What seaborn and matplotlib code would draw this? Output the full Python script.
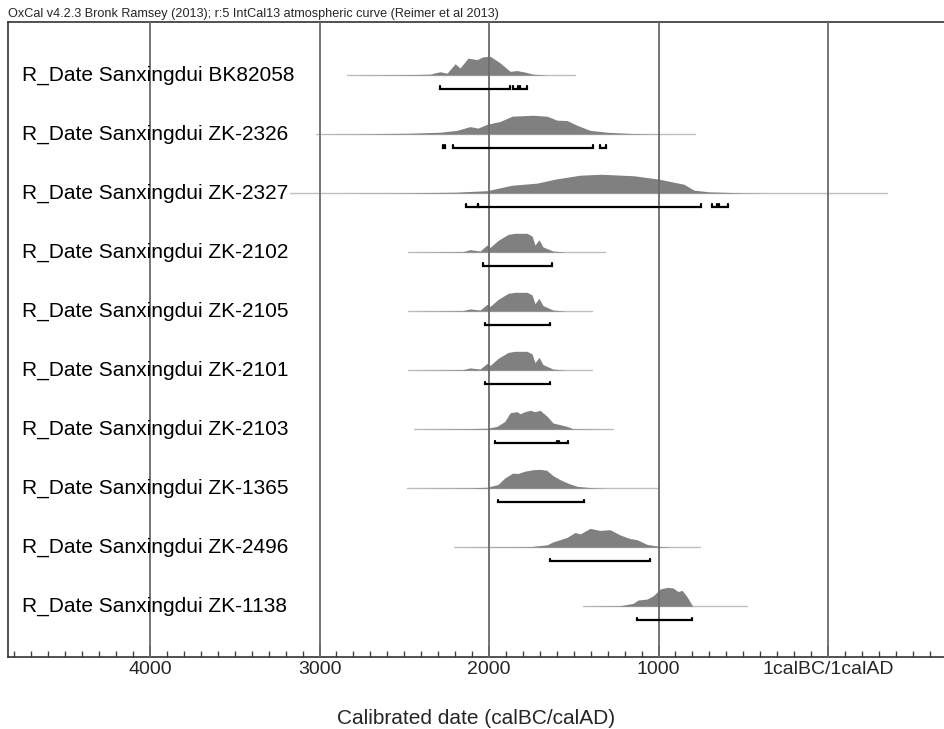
import numpy as np
import pandas as pd
import matplotlib
matplotlib.use("Agg")
import matplotlib.pyplot as plt
from matplotlib.ticker import MultipleLocator
import seaborn as sns

# OxCal multiplot: calibrated R_Dates from Sanxingdui, years in calBC

labels = [
    "R_Date Sanxingdui BK82058",
    "R_Date Sanxingdui ZK-2326",
    "R_Date Sanxingdui ZK-2327",
    "R_Date Sanxingdui ZK-2102",
    "R_Date Sanxingdui ZK-2105",
    "R_Date Sanxingdui ZK-2101",
    "R_Date Sanxingdui ZK-2103",
    "R_Date Sanxingdui ZK-1365",
    "R_Date Sanxingdui ZK-2496",
    "R_Date Sanxingdui ZK-1138",
]

# relative probability (peak = 1) at calBC years
bk82058_bc = [2838, 2466, 2350, 2289, 2248, 2200, 2171, 2124, 2071, 2035, 1994, 1935, 1876, 1835, 1788, 1740, 1658, 1493]
bk82058_p = [0, 0.03, 0.05, 0.18, 0.10, 0.60, 0.38, 0.90, 0.82, 0.97, 1.0, 0.65, 0.20, 0.24, 0.16, 0.05, 0, 0]

zk2326_bc = [3021, 2820, 2466, 2289, 2189, 2112, 2065, 2012, 1935, 1864, 1741, 1658, 1599, 1540, 1481, 1404, 1304, 1150, 949, 785]
zk2326_p = [0, 0.01, 0.05, 0.10, 0.20, 0.40, 0.32, 0.52, 0.67, 0.95, 1.0, 0.95, 0.74, 0.72, 0.47, 0.20, 0.10, 0.03, 0, 0]

zk2327_bc = [3174, 2873, 2472, 2201, 2012, 1864, 1717, 1611, 1463, 1339, 1145, 997, 850, 791, 702, 513, 366, -348]
zk2327_p = [0, 0, 0.02, 0.05, 0.13, 0.42, 0.53, 0.74, 0.95, 1.0, 0.92, 0.74, 0.47, 0.16, 0.07, 0.02, 0, 0]

zk2102_bc = [2478, 2154, 2112, 2053, 2012, 1994, 1947, 1888, 1847, 1776, 1746, 1729, 1705, 1682, 1623, 1540, 1316]
zk2102_p = [0, 0.03, 0.13, 0.06, 0.38, 0.25, 0.62, 0.94, 1.0, 1.0, 0.85, 0.38, 0.66, 0.28, 0.06, 0, 0]

zk2105_bc = [2478, 2154, 2112, 2053, 2012, 1994, 1947, 1888, 1847, 1776, 1746, 1729, 1705, 1682, 1623, 1540, 1392]
zk2105_p = [0, 0.03, 0.12, 0.06, 0.36, 0.25, 0.62, 0.94, 1.0, 1.0, 0.86, 0.40, 0.68, 0.30, 0.06, 0, 0]

zk2101_bc = [2478, 2154, 2112, 2053, 2012, 1994, 1947, 1888, 1847, 1776, 1746, 1729, 1705, 1682, 1623, 1540, 1392]
zk2101_p = [0, 0.03, 0.12, 0.06, 0.36, 0.25, 0.62, 0.94, 1.0, 1.0, 0.86, 0.40, 0.68, 0.30, 0.06, 0, 0]

zk2103_bc = [2443, 2130, 2012, 1953, 1906, 1876, 1835, 1817, 1788, 1758, 1729, 1699, 1658, 1623, 1581, 1540, 1505, 1269]
zk2103_p = [0, 0.03, 0.05, 0.15, 0.42, 0.87, 0.93, 0.82, 0.93, 1.0, 0.93, 1.0, 0.69, 0.33, 0.24, 0.15, 0.03, 0]

zk1365_bc = [2484, 2130, 2012, 1947, 1906, 1860, 1830, 1790, 1740, 1700, 1660, 1620, 1580, 1530, 1480, 1400, 1300, 1003]
zk1365_p = [0, 0.02, 0.05, 0.20, 0.55, 0.80, 0.78, 0.90, 0.98, 1.0, 0.95, 0.65, 0.45, 0.25, 0.10, 0.03, 0, 0]

zk2496_bc = [2207, 1758, 1658, 1623, 1540, 1493, 1463, 1404, 1345, 1286, 1227, 1168, 1127, 1068, 991, 915, 755]
zk2496_p = [0, 0.03, 0.13, 0.28, 0.52, 0.78, 0.70, 1.0, 0.89, 0.93, 0.65, 0.46, 0.40, 0.15, 0.04, 0, 0]

zk1138_bc = [1446, 1227, 1150, 1121, 1068, 1032, 991, 950, 915, 885, 861, 832, 802, 796, 478]
zk1138_p = [0, 0.03, 0.15, 0.33, 0.38, 0.55, 0.91, 1.0, 0.97, 0.78, 0.84, 0.51, 0.05, 0, 0]

# highest posterior density ranges (calBC from, to)
bk82058_hpd = [(2290, 1876), (1858, 1829), (1817, 1776)]
zk2326_hpd = [(2270, 2260), (2212, 1386), (1345, 1310)]
zk2327_hpd = [(2136, 2065), (2065, 749), (684, 655), (643, 590)]
zk2102_hpd = [(2035, 1628)]
zk2105_hpd = [(2024, 1640)]
zk2101_hpd = [(2024, 1640)]
zk2103_hpd = [(1965, 1599), (1587, 1534)]
zk1365_hpd = [(1947, 1440)]
zk2496_hpd = [(1640, 1050)]
zk1138_hpd = [(1127, 802)]

dists = [
    (bk82058_bc, bk82058_p), (zk2326_bc, zk2326_p), (zk2327_bc, zk2327_p),
    (zk2102_bc, zk2102_p), (zk2105_bc, zk2105_p), (zk2101_bc, zk2101_p),
    (zk2103_bc, zk2103_p), (zk1365_bc, zk1365_p), (zk2496_bc, zk2496_p),
    (zk1138_bc, zk1138_p),
]
ranges = [bk82058_hpd, zk2326_hpd, zk2327_hpd, zk2102_hpd, zk2105_hpd,
          zk2101_hpd, zk2103_hpd, zk1365_hpd, zk2496_hpd, zk1138_hpd]

grid_years = [4000, 3000, 2000, 1000, 0]
grid_labels = ["4000", "3000", "2000", "1000", "1calBC/1calAD"]

rows = []
for i, (bc, p) in enumerate(dists):
    for yr, pr in zip(bc, p):
        rows.append({"row": i, "year": -yr, "prob": pr})
df = pd.DataFrame(rows)

sns.set_theme(style="white")
plt.rcParams["font.family"] = ["Liberation Sans", "DejaVu Sans"]

PEAK = 0.32      # peak height in row units
BAR_OFF = 0.237  # range bars sit below the baseline
HOOK = 0.045

fig = plt.figure(figsize=(9.45, 7.29), dpi=100)
ax = fig.add_axes([8 / 945, 1 - 657 / 729, 1 - 8 / 945, (657 - 22) / 729])

for i, g in df.groupby("row"):
    g = g.sort_values("year")
    top = i - g["prob"].to_numpy() * PEAK
    # thin baseline across the full extent of the distribution
    sns.lineplot(x=[g["year"].min(), g["year"].max()], y=[i, i], ax=ax,
                 color="#c0c0c0", lw=1.0, estimator=None, zorder=1)
    ax.fill_between(g["year"], i, top, color="#808080", lw=0, zorder=2)
    yb = i + BAR_OFF
    for a, b in ranges[i]:
        ax.plot([-a, -a, -b, -b], [yb - HOOK, yb, yb, yb - HOOK],
                color="black", lw=1.6, solid_joinstyle="miter", zorder=4)
    ax.text(14 / 937, i, labels[i], transform=ax.get_yaxis_transform(),
            ha="left", va="center", fontsize=15, color="black", zorder=5)

for yr in grid_years:
    ax.axvline(-yr, color="#6a6a6a", lw=1.3, zorder=3)

ax.set_xlim(-4838, 690)
ax.set_ylim(9.86, -0.9)
ax.set_yticks([])
ax.set_xticks([-y for y in grid_years])
ax.set_xticklabels(grid_labels, fontsize=14)
ax.xaxis.set_minor_locator(MultipleLocator(100))
ax.tick_params(axis="x", which="major", direction="in", length=8, width=1.2,
               color="#444444", pad=3, bottom=True)
ax.tick_params(axis="x", which="minor", direction="in", length=4, width=1.0,
               color="#444444", bottom=True)
ax.set_xlabel("Calibrated date (calBC/calAD)", fontsize=15, labelpad=22)

for side in ["left", "top", "bottom"]:
    ax.spines[side].set_visible(True)
    ax.spines[side].set_color("#333333")
    ax.spines[side].set_linewidth(1.2)
ax.spines["right"].set_visible(False)

fig.text(8 / 945, 1 - 14 / 729,
         "OxCal v4.2.3 Bronk Ramsey (2013); r:5 IntCal13 atmospheric curve (Reimer et al 2013)",
         ha="left", va="center", fontsize=9.1)

fig.savefig("out.png", dpi=100)
